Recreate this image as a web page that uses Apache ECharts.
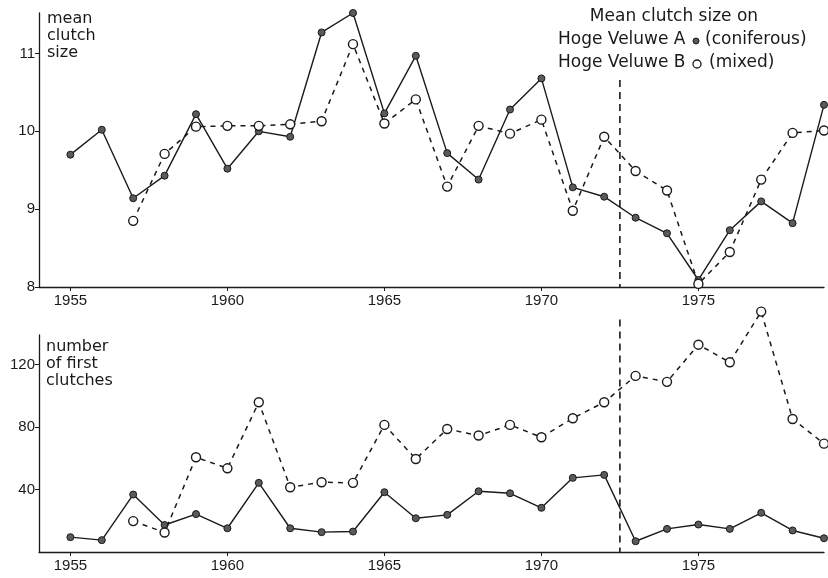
<!DOCTYPE html>
<html>
<head>
<meta charset="utf-8">
<script src="https://cdn.jsdelivr.net/npm/echarts@6/dist/echarts.min.js"></script>
<style>
html,body{margin:0;padding:0;background:#fff;}
#chart{width:828px;height:578px;}
</style>
</head>
<body>
<div id="chart"></div>
<script>
// ---- data ----
var yearsA = [1955,1956,1957,1958,1959,1960,1961,1962,1963,1964,1965,1966,1967,1968,1969,1970,1971,1972,1973,1974,1975,1976,1977,1978,1979];
var yearsB = [1957,1958,1959,1960,1961,1962,1963,1964,1965,1966,1967,1968,1969,1970,1971,1972,1973,1974,1975,1976,1977,1978,1979];
var clutchA = [9.70,10.02,9.14,9.43,10.22,9.52,10.00,9.93,11.27,11.52,10.23,10.97,9.72,9.38,10.28,10.68,9.28,9.16,8.89,8.69,8.09,8.73,9.10,8.82,10.34];
var clutchB = [8.85,9.71,10.06,10.07,10.07,10.09,10.13,11.12,10.10,10.41,9.29,10.07,9.97,10.15,8.98,9.93,9.49,9.24,8.04,8.45,9.38,9.98,10.01];
var firstA = [9.5,7.6,36.8,17.3,24.3,15.2,44.3,15.2,12.7,13.1,38.3,21.6,23.8,38.9,37.6,28.3,47.5,49.4,6.9,14.8,17.6,14.8,25.1,13.8,8.8];
var firstB = [19.8,12.5,60.7,53.6,95.9,41.5,44.7,44.3,81.4,59.6,78.8,74.6,81.4,73.5,85.7,95.9,112.8,109.0,132.8,121.5,154.0,85.2,69.4];
var xTicks = [1955,1960,1965,1970,1975];
var yTicksTop = [8,9,10,11];
var yTicksBottom = [40,80,120];
var dividerYears = [1972.5, 1972.5];
var dividerTop = [10.66, 8];
var dividerBottom = [149, 0];

function pairs(xs, ys){ return xs.map(function(x,i){ return [x, ys[i]]; }); }

var ink = '#1a1a1a';
var tickFont = 'Liberation Sans';
function plain(v){ return String(v); }

function makeXAxis(gi){
  return {
    type:'value', gridIndex:gi, min:1954, max:1979,
    axisLine:{show:true, onZero:false, lineStyle:{color:ink, width:1.3}},
    axisTick:{show:true, length:4, customValues:xTicks, lineStyle:{color:ink}},
    axisLabel:{customValues:xTicks, formatter:plain, color:ink, fontFamily:tickFont, fontSize:15, margin:6},
    splitLine:{show:false}
  };
}
function makeYAxis(gi, mn, mx, ticks){
  return {
    type:'value', gridIndex:gi, min:mn, max:mx,
    axisLine:{show:true, onZero:false, lineStyle:{color:ink, width:1.3}},
    axisTick:{show:true, length:4, customValues:ticks, lineStyle:{color:ink}},
    axisLabel:{customValues:ticks, formatter:plain, color:ink, fontFamily:tickFont, fontSize:15, margin:4},
    splitLine:{show:false}
  };
}
function solidSeries(xi, data){
  return {type:'line', xAxisIndex:xi, yAxisIndex:xi, data:data, clip:false,
    symbol:'circle', symbolSize:7,
    lineStyle:{color:ink, width:1.4},
    itemStyle:{color:'#5a5a5a', borderColor:ink, borderWidth:1},
    z:3, animation:false};
}
function dashedSeries(xi, data){
  return {type:'line', xAxisIndex:xi, yAxisIndex:xi, data:data, clip:false,
    symbol:'circle', symbolSize:9,
    lineStyle:{color:ink, width:1.5, type:[5,5]},
    itemStyle:{color:'#fff', borderColor:ink, borderWidth:1.4},
    z:4, animation:false};
}
function dividerSeries(xi, ext){
  return {type:'line', xAxisIndex:xi, yAxisIndex:xi, data:pairs(dividerYears, ext), clip:false,
    showSymbol:false, symbol:'none', silent:true,
    lineStyle:{color:ink, width:1.6, type:[7,5]},
    z:2, animation:false};
}

var font17 = '17px "DejaVu Sans"';
var chart = echarts.init(document.getElementById('chart'), null, {renderer:'canvas'});
chart.setOption({
  backgroundColor:'#fff',
  animation:false,
  grid:[
    {left:39, width:785, top:13, height:274},
    {left:39, width:785, top:335, height:217}
  ],
  xAxis:[makeXAxis(0), makeXAxis(1)],
  yAxis:[makeYAxis(0, 8, 11.52, yTicksTop), makeYAxis(1, 0, 139, yTicksBottom)],
  series:[
    dividerSeries(0, dividerTop),
    dividerSeries(1, dividerBottom),
    solidSeries(0, pairs(yearsA, clutchA)),
    dashedSeries(0, pairs(yearsB, clutchB)),
    solidSeries(1, pairs(yearsA, firstA)),
    dashedSeries(1, pairs(yearsB, firstB))
  ],
  graphic:[
    {type:'text', left:47, top:10, style:{text:'mean\nclutch\nsize', font:'16px "DejaVu Sans"', fill:ink, lineHeight:17}},
    {type:'text', left:46, top:338, style:{text:'number\nof first\nclutches', font:'16px "DejaVu Sans"', fill:ink, lineHeight:17}},
    {type:'text', x:674, y:17, style:{text:'Mean clutch size on', font:font17, fill:ink, align:'center', verticalAlign:'middle'}},
    {type:'text', x:558, y:40, style:{text:'Hoge Veluwe A', font:font17, fill:ink, verticalAlign:'middle'}},
    {type:'circle', shape:{cx:696, cy:41, r:3}, style:{fill:'#5a5a5a', stroke:ink, lineWidth:1}},
    {type:'text', x:705, y:40, style:{text:'(coniferous)', font:font17, fill:ink, verticalAlign:'middle'}},
    {type:'text', x:558, y:63, style:{text:'Hoge Veluwe B', font:font17, fill:ink, verticalAlign:'middle'}},
    {type:'circle', shape:{cx:697, cy:64, r:4}, style:{fill:'#fff', stroke:ink, lineWidth:1.3}},
    {type:'text', x:709, y:63, style:{text:'(mixed)', font:font17, fill:ink, verticalAlign:'middle'}}
  ]
});
</script>
</body>
</html>
